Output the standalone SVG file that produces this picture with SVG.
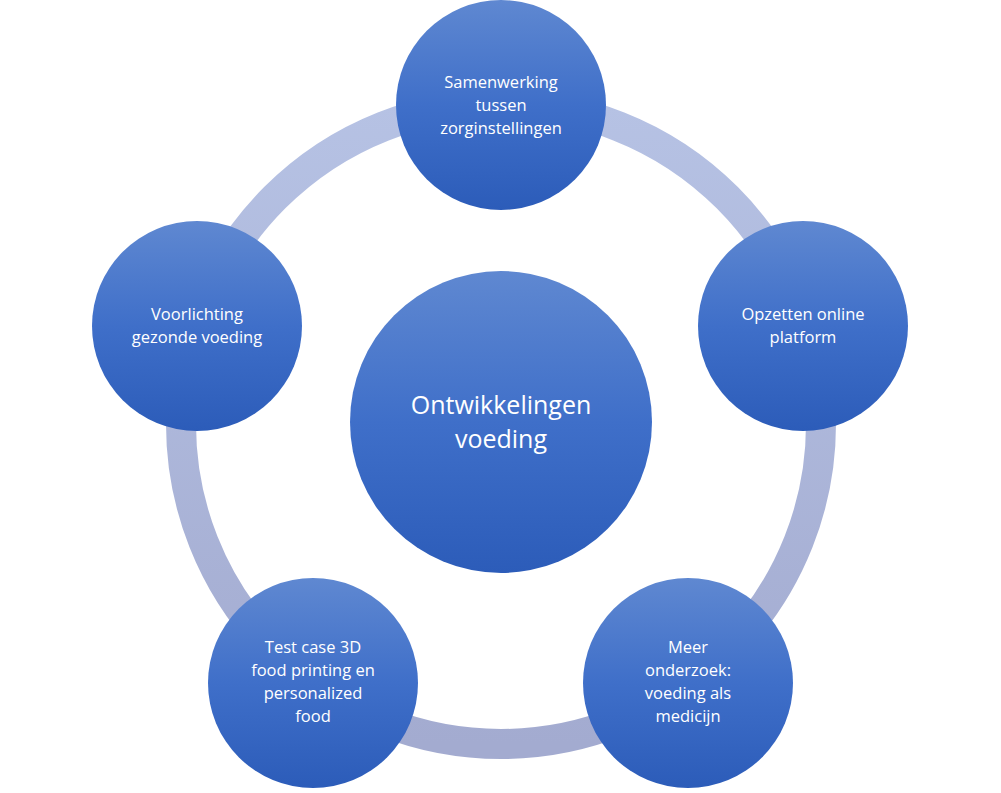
<svg xmlns="http://www.w3.org/2000/svg" width="1001" height="793" viewBox="0 0 1001 793">
<style>
.n{fill:url(#g)}
.t{fill:#fff;font-family:"Open Sans","Noto Sans",sans-serif;font-size:16.5px;text-anchor:middle}
.c{font-size:25px}
</style>
<defs>
<linearGradient id="g" x1="0" y1="0" x2="0" y2="1">
<stop offset="0" stop-color="#5f88d1"/><stop offset="0.5" stop-color="#3f6fc9"/><stop offset="1" stop-color="#2c5cb9"/>
</linearGradient>
<linearGradient id="r" x1="0" y1="0" x2="0" y2="1">
<stop offset="0" stop-color="#b6c2e4"/><stop offset="1" stop-color="#a3abd0"/>
</linearGradient>
</defs>
<g id="connectors"><circle cx="501" cy="424" r="320" fill="none" stroke="url(#r)" stroke-width="30"/></g>
<g id="center"><circle class="n" cx="501" cy="422" r="151"/><text class="t c" x="501" y="414">Ontwikkelingen</text><text class="t c" x="501" y="448">voeding</text></g>
<g id="n1"><circle class="n" cx="501" cy="105" r="105"/><text class="t" x="501" y="88">Samenwerking</text><text class="t" x="501" y="111">tussen</text><text class="t" x="501" y="134">zorginstellingen</text></g>
<g id="n2"><circle class="n" cx="803" cy="326" r="105"/><text class="t" x="803" y="320">Opzetten online</text><text class="t" x="803" y="343">platform</text></g>
<g id="n3"><circle class="n" cx="688" cy="683" r="105"/><text class="t" x="688" y="653">Meer</text><text class="t" x="688" y="676">onderzoek:</text><text class="t" x="688" y="699">voeding als</text><text class="t" x="688" y="722">medicijn</text></g>
<g id="n4"><circle class="n" cx="313" cy="683" r="105"/><text class="t" x="313" y="653">Test case 3D</text><text class="t" x="313" y="676">food printing en</text><text class="t" x="313" y="699">personalized</text><text class="t" x="313" y="722">food</text></g>
<g id="n5"><circle class="n" cx="197" cy="326" r="105"/><text class="t" x="197" y="320">Voorlichting</text><text class="t" x="197" y="343">gezonde voeding</text></g>
</svg>
